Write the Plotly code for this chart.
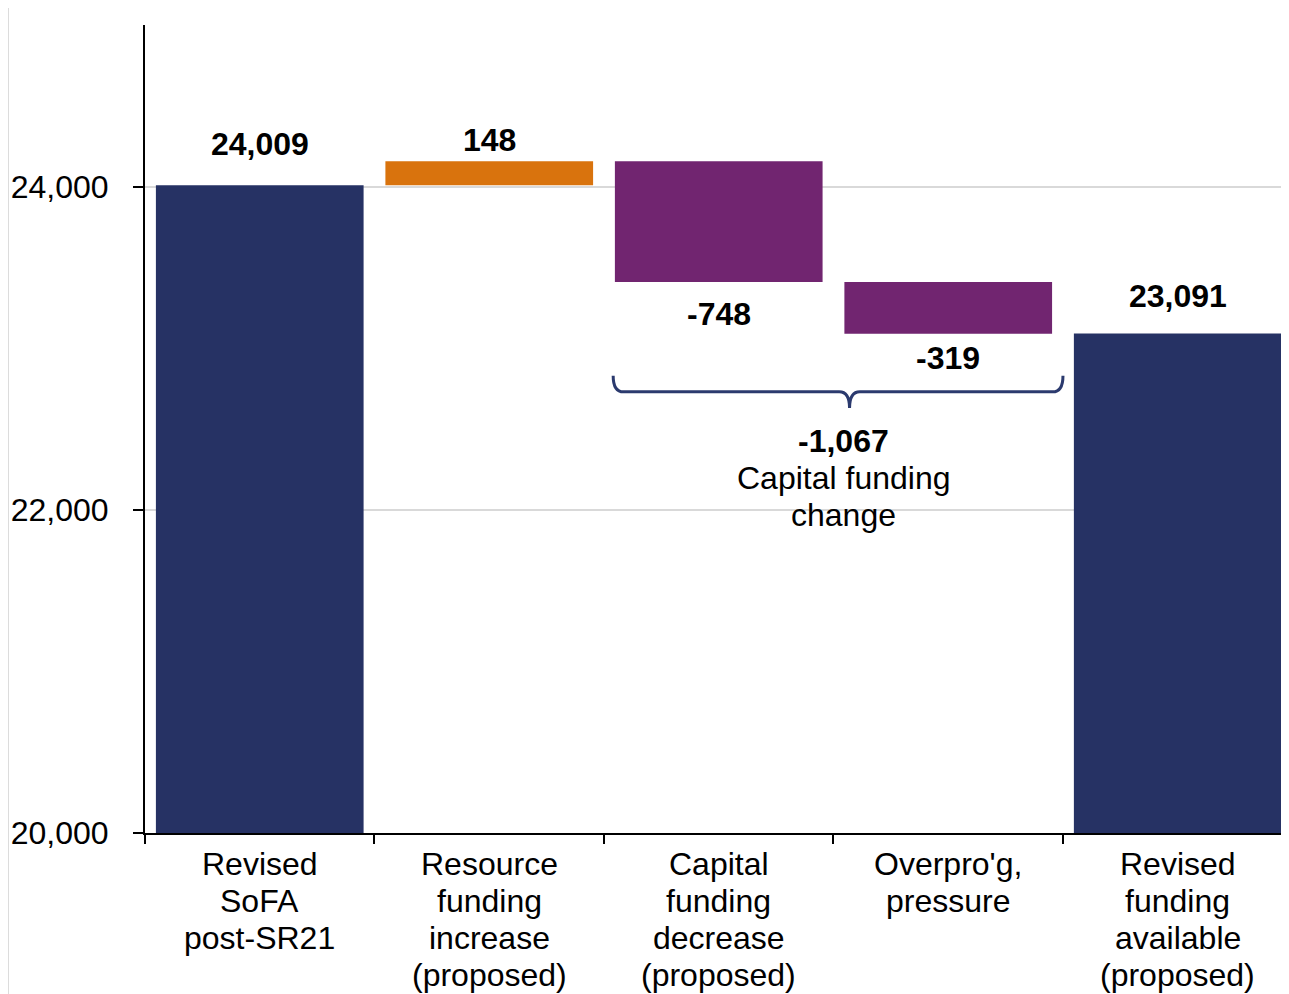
import plotly.graph_objects as go

# ---- data ----
categories = [
    "Revised<br>SoFA<br>post-SR21",
    "Resource<br>funding<br>increase<br>(proposed)",
    "Capital<br>funding<br>decrease<br>(proposed)",
    "Overpro'g,<br>pressure",
    "Revised<br>funding<br>available<br>(proposed)",
]
measures = ["total", "relative", "relative", "relative", "total"]
values = [24009, 148, -748, -319, 23091]
axis_min = 20000
axis_max = 25000
y_tickvals = [20000, 22000, 24000]
bracket_group = [2, 3]          # indices of the bars grouped by the brace
bracket_caption = ["Capital funding", "change"]

NAVY = "#263264"
ORANGE = "#D9730D"
PURPLE = "#712570"
FONT = "Liberation Sans, Arial, sans-serif"
FS = 32
LINE = 37   # line spacing in px

# ---- derive waterfall geometry from data ----
bases, heights, colors, ends = [], [], [], []
running = 0
for m, v in zip(measures, values):
    if m == "total":
        bases.append(axis_min)
        heights.append(v - axis_min)
        colors.append(NAVY)
        running = v
        ends.append(v)
    else:
        bases.append(running)
        heights.append(v)
        colors.append(ORANGE if v > 0 else PURPLE)
        running = running + v
        ends.append(running)

fig = go.Figure()
fig.add_trace(go.Bar(
    x=categories, y=heights, base=bases,
    marker=dict(color=colors, line=dict(width=0)),
    width=0.905, hoverinfo="skip", showlegend=False,
))

txtfont = dict(family=FONT, size=FS, color="#000000")

# value labels
label_shift = [41, 21, -32, -24, 37]
for i, (v, e) in enumerate(zip(values, ends)):
    fig.add_annotation(
        x=categories[i], y=e, yref="y", xref="x",
        text="<b>{:,}</b>".format(v),
        showarrow=False, yanchor="middle", yshift=label_shift[i],
        font=txtfont,
    )

# category labels (one annotation per line for tight line spacing)
for i, cat in enumerate(categories):
    for j, line in enumerate(cat.split("<br>")):
        fig.add_annotation(
            x=categories[i], y=0, xref="x", yref="paper",
            text=line, showarrow=False, yanchor="middle",
            yshift=-(31 + j * LINE), font=txtfont,
        )

# curly brace under the grouped bars
x0 = bracket_group[0] - 0.46
x1 = bracket_group[-1] + 0.5
xc = (x0 + x1) / 2 + 0.05
ytop, ymid, ybot = 22830, 22730, 22630
dx = 0.045
path = (f"M {x0},{ytop} Q {x0},{ymid} {x0+dx},{ymid} L {xc-dx},{ymid} "
        f"Q {xc},{ymid} {xc},{ybot} Q {xc},{ymid} {xc+dx},{ymid} "
        f"L {x1-dx},{ymid} Q {x1},{ymid} {x1},{ytop}")
fig.add_shape(type="path", path=path, xref="x", yref="y",
              line=dict(color="#2B3A6E", width=3))

group_total = sum(values[i] for i in bracket_group)
caption_lines = ["<b>{:,}</b>".format(group_total)] + bracket_caption
for j, line in enumerate(caption_lines):
    fig.add_annotation(
        x=xc - 0.025, y=ybot, xref="x", yref="y",
        text=line, showarrow=False, yanchor="middle",
        yshift=-(33 + j * LINE), font=txtfont,
    )

# left border line of the chart frame
fig.add_shape(type="line", xref="paper", yref="paper",
              x0=-0.1206, x1=-0.1206, y0=-0.21, y1=1.025,
              line=dict(color="#D0D0D0", width=1.5))

fig.update_layout(
    width=1273, height=986,
    margin=dict(l=137, r=0, t=17, b=161),
    paper_bgcolor="white", plot_bgcolor="white",
    bargap=0.09,
    font=txtfont,
    xaxis=dict(
        type="category", range=[-0.5, 4.45],
        showline=True, linecolor="#000000", linewidth=2,
        ticks="outside", tickson="boundaries", ticklen=9, tickwidth=2,
        tickcolor="#000000", showgrid=False, showticklabels=False,
    ),
    yaxis=dict(
        range=[axis_min, axis_max], tickvals=y_tickvals, tickformat=",",
        showline=True, linecolor="#000000", linewidth=2,
        ticks="outside", ticklen=10, tickwidth=2, tickcolor="#000000",
        showgrid=True, gridcolor="#D9D9D9", gridwidth=2, zeroline=False,
        ticklabelstandoff=18,
        tickfont=txtfont,
    ),
)

fig.write_html("out.html")
